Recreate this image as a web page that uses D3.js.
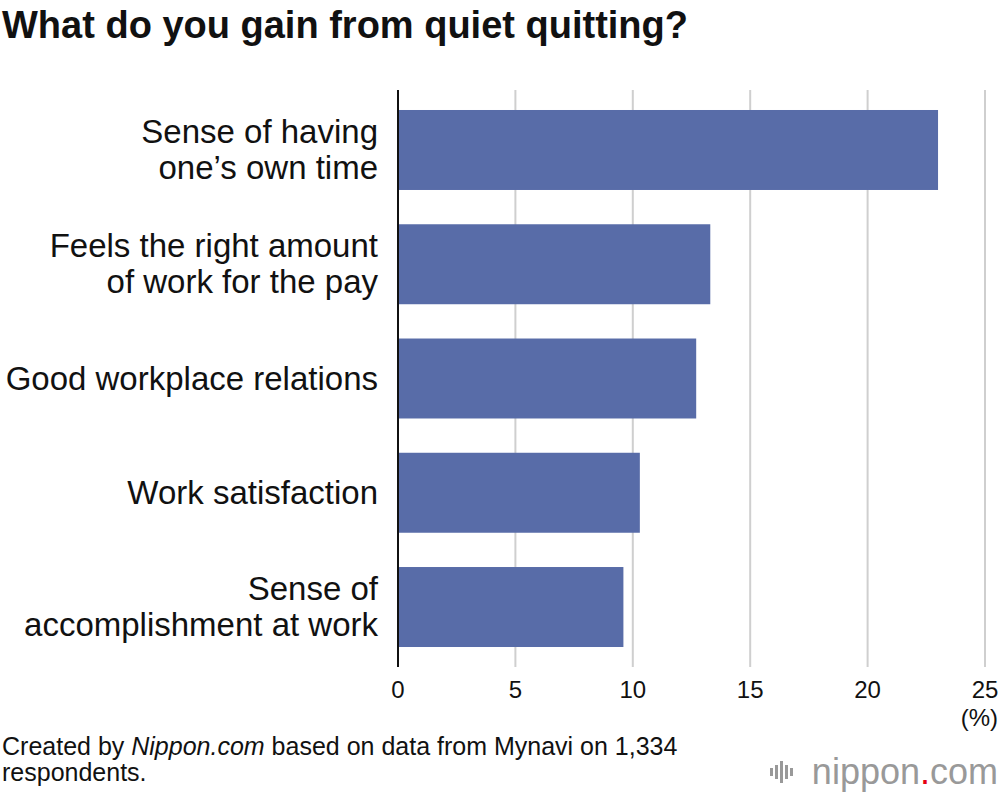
<!DOCTYPE html>
<html>
<head>
<meta charset="utf-8">
<script src="https://cdn.jsdelivr.net/npm/d3@7"></script>
<style>
  body { margin: 0; background: #fff; }
  svg text { font-family: "Liberation Sans", Arial, sans-serif; fill: #111; }
</style>
</head>
<body>
<div id="chart"></div>
<script>
const categories = [
    ['Sense of having', 'one\u2019s own time'],
    ['Feels the right amount', 'of work for the pay'],
    ['Good workplace relations'],
    ['Work satisfaction'],
    ['Sense of', 'accomplishment at work']
];
const values = [23.0, 13.3, 12.7, 10.3, 9.6];
const xTicks = [0, 5, 10, 15, 20, 25];

const width = 1000;
const height = 796;
const margin = {top: 90, right: 15, bottom: 129, left: 398};

const svg = d3.select('#chart')
    .append('svg')
        .attr('width', width)
        .attr('height', height);

const x = d3.scaleLinear()
    .domain([0, 25])
    .range([margin.left, width - margin.right]);
const y = d3.scaleBand()
    .domain(d3.range(values.length))
    .range([margin.top, height - margin.bottom])
    .paddingInner(0.3)
    .paddingOuter(0.175);

// gridlines
svg.append('g')
    .selectAll('line')
    .data(xTicks.slice(1))
    .join('line')
        .attr('x1', d => x(d))
        .attr('x2', d => x(d))
        .attr('y1', margin.top)
        .attr('y2', height - margin.bottom)
        .attr('stroke', '#cfcfcf')
        .attr('stroke-width', 2);

svg.append('g')
    .selectAll('rect')
    .data(values)
    .join('rect')
        .attr('x', x(0))
        .attr('y', (d, i) => y(i))
        .attr('width', d => x(d) - x(0))
        .attr('height', y.bandwidth())
        .attr('fill', '#586ca8');

// axis line
svg.append('line')
    .attr('x1', x(0)).attr('x2', x(0))
    .attr('y1', margin.top).attr('y2', height - margin.bottom)
    .attr('stroke', '#111').attr('stroke-width', 2);

// tick labels
svg.append('g')
    .selectAll('text')
    .data(xTicks)
    .join('text')
        .attr('x', d => x(d))
        .attr('y', 698)
        .attr('text-anchor', 'middle')
        .style('font-size', '24px')
        .text(d => d);
svg.append('text')
    .attr('x', 998).attr('y', 726)
    .attr('text-anchor', 'end')
    .style('font-size', '24px')
    .text('(%)');

// category labels
const lab = svg.append('g')
    .selectAll('text')
    .data(categories)
    .join('text')
        .attr('text-anchor', 'end')
        .style('font-size', '33px')
        .attr('x', 378)
        .attr('y', (d, i) => y(i) + y.bandwidth() / 2 - (d.length - 1) * 18 + 11);
lab.selectAll('tspan')
    .data(d => d)
    .join('tspan')
        .attr('x', 378)
        .attr('dy', (d, i) => i ? 36 : 0)
        .text(d => d);

// title
svg.append('text')
    .attr('x', 2).attr('y', 38)
    .style('font-size', '38px')
    .style('font-weight', 'bold')
    .text('What do you gain from quiet quitting?');

// source
const src = svg.append('text')
    .attr('x', 2).attr('y', 755)
    .style('font-size', '25px');
src.append('tspan').text('Created by ');
src.append('tspan').style('font-style', 'italic').text('Nippon.com');
src.append('tspan').text(' based on data from Mynavi on 1,334');
svg.append('text')
    .attr('x', 2).attr('y', 781)
    .style('font-size', '25px')
    .text('respondents.');

// logo
const logo = svg.append('g');
logo.selectAll('rect')
    .data([8, 14, 22, 14, 8])
    .join('rect')
        .attr('x', (d, i) => 770 + i * 5)
        .attr('y', d => 772 - d / 2)
        .attr('width', 3)
        .attr('height', d => d)
        .attr('fill', '#999');
const lt = logo.append('text')
    .attr('x', 998).attr('y', 784)
    .attr('text-anchor', 'end')
    .style('font-size', '36px')
    .style('fill', '#999');
lt.append('tspan').style('fill', '#999').text('nippon');
lt.append('tspan').style('fill', '#e60012').text('.');
lt.append('tspan').style('fill', '#999').text('com');
</script>
</body>
</html>
